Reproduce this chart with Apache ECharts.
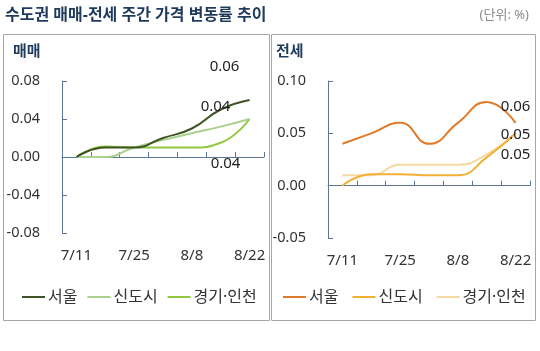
<!DOCTYPE html>
<html>
<head>
<meta charset="utf-8">
<script src="https://cdn.jsdelivr.net/npm/echarts@6/dist/echarts.min.js"></script>
<style>
  html, body { margin: 0; padding: 0; background: #fff; }
  #chart { width: 540px; height: 351px; }
</style>
</head>
<body>
<div id="chart"></div>
<script>
// 주간 (x축)
const weeks = ['7/11', '7/18', '7/25', '8/1', '8/8', '8/15', '8/22']
const regionNames = ['서울', '신도시', '경기·인천']

// 매매
const saleSeoul = [0, 0.01, 0.01, 0.02, 0.03, 0.05, 0.06]
const saleNewTown = [0, 0, 0.01, 0.018, 0.025, 0.032, 0.04]
const saleGyeonggi = [0, 0.011, 0.01, 0.01, 0.01, 0.015, 0.04]

// 전세
const leaseSeoul = [0.04, 0.05, 0.06, 0.04, 0.06, 0.08, 0.06]
const leaseNewTown = [0, 0.011, 0.011, 0.01, 0.01, 0.027, 0.05]
const leaseGyeonggi = [0.01, 0.01, 0.02, 0.02, 0.02, 0.03, 0.05]

// y축 눈금 [min, max, interval]
const saleTicks = [-0.08, 0.08, 0.04]
const leaseTicks = [-0.05, 0.10, 0.05]

const FONT = '"Noto Sans", "Noto Sans CJK KR", sans-serif'
const AXIS_COLOR = '#5b7696'
const NAVY = '#1f3a5c'

const chart = echarts.init(document.getElementById('chart'))

function zeroAxis(gridIndex) {
  return {
    type: 'category', gridIndex, data: weeks, boundaryGap: true,
    axisLine: { onZero: true, lineStyle: { color: AXIS_COLOR, width: 1 } },
    axisTick: { show: true, inside: true, length: 5, interval: 0, lineStyle: { color: AXIS_COLOR } },
    axisLabel: { show: false },
    splitLine: { show: false },
  }
}

function labelAxis(gridIndex) {
  return {
    type: 'category', gridIndex, data: weeks, position: 'bottom', boundaryGap: true,
    axisLine: { show: false, onZero: false },
    axisTick: { show: false },
    axisLabel: { interval: 1, margin: 15, fontSize: 15, color: '#333', fontFamily: FONT },
    splitLine: { show: false },
  }
}

function valueAxis(gridIndex, ticks) {
  return {
    type: 'value', gridIndex, min: ticks[0], max: ticks[1], interval: ticks[2],
    axisLine: { show: true, lineStyle: { color: AXIS_COLOR, width: 1 } },
    axisTick: { show: true, inside: true, length: 5, lineStyle: { color: AXIS_COLOR } },
    axisLabel: { margin: 22, fontSize: 14.5, color: '#333', fontFamily: FONT, formatter: v => v.toFixed(2) },
    splitLine: { show: false },
  }
}

function line(name, data, color, xi, yi, offset) {
  const last = data.length - 1
  return {
    name, type: 'line', data, xAxisIndex: xi, yAxisIndex: yi,
    smooth: true, symbol: 'none',
    lineStyle: { color, width: 2 },
    itemStyle: { color },
    markPoint: {
      symbol: 'circle', symbolSize: 0, silent: true,
      data: [{ coord: [weeks[last], data[last]], value: data[last] }],
      label: {
        show: true, position: 'inside', offset,
        color: '#222', fontSize: 15, fontFamily: FONT,
        formatter: p => p.value.toFixed(2),
      },
    },
  }
}

const rightName = n => n + '#r'

const legendBase = {
  top: 289, padding: 0, width: 260, icon: 'rect', itemWidth: 23, itemHeight: 2,
  textStyle: { fontSize: 16, color: '#333', fontFamily: FONT, padding: [0, 0, 0, -2] },
}

chart.setOption({
  animation: false,
  textStyle: { fontFamily: FONT },
  title: [
    { text: '수도권 매매-전세 주간 가격 변동률 추이', left: 5, top: 7, padding: 0,
      textStyle: { fontSize: 16, fontWeight: 'bold', color: NAVY, fontFamily: FONT } },
    { text: '(단위: %)', right: 11, top: 9, padding: 0,
      textStyle: { fontSize: 13, fontWeight: 'normal', color: '#8a8a8a', fontFamily: FONT } },
    { text: '매매', left: 13, top: 44, padding: 0,
      textStyle: { fontSize: 15, fontWeight: 'bold', color: NAVY, fontFamily: FONT } },
    { text: '전세', left: 276, top: 44, padding: 0,
      textStyle: { fontSize: 15, fontWeight: 'bold', color: NAVY, fontFamily: FONT } },
  ],
  graphic: [
    { type: 'rect', shape: { x: 3.5, y: 34.5, width: 266, height: 286 },
      style: { fill: 'none', stroke: '#a6a6a6', lineWidth: 1 }, silent: true },
    { type: 'rect', shape: { x: 271.5, y: 34.5, width: 264, height: 286 },
      style: { fill: 'none', stroke: '#a6a6a6', lineWidth: 1 }, silent: true },
  ],
  legend: [
    Object.assign({}, legendBase, { left: 22, itemGap: 10, data: regionNames }),
    Object.assign({}, legendBase, {
      left: 283, itemGap: 14, data: regionNames.map(rightName),
      formatter: n => n.replace('#r', ''),
    }),
  ],
  grid: [
    { left: 62, top: 81, width: 202, height: 152 },
    { left: 328, top: 81, width: 202, height: 157 },
  ],
  xAxis: [zeroAxis(0), labelAxis(0), zeroAxis(1), labelAxis(1)],
  yAxis: [valueAxis(0, saleTicks), valueAxis(1, leaseTicks)],
  series: [
    line(regionNames[2], saleGyeonggi, '#92c83e', 0, 0, [-24, 45]),
    line(regionNames[1], saleNewTown, '#a9d18e', 0, 0, [-34, -12]),
    line(regionNames[0], saleSeoul, '#3f5424', 0, 0, [-25, -33]),
    line(rightName(regionNames[2]), leaseGyeonggi, '#f6d8a2', 2, 1, [0, 21]),
    line(rightName(regionNames[1]), leaseNewTown, '#f2b134', 2, 1, [0, 1]),
    line(rightName(regionNames[0]), leaseSeoul, '#e07b2a', 2, 1, [0, -16]),
  ],
})
</script>
</body>
</html>
